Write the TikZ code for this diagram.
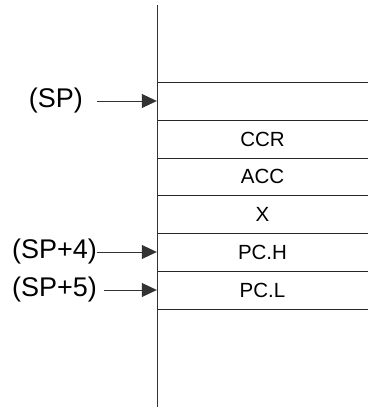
\documentclass[tikz,border=0pt]{standalone}
\usepackage{fontspec}
\setmainfont{Liberation Sans}
\usetikzlibrary{arrows.meta}
\tikzset{
  cell/.style={minimum width=211pt, minimum height=37pt, inner sep=0pt,
    font=\fontsize{20.5}{23}\selectfont},
  lbl/.style={inner sep=0pt, anchor=east, font=\fontsize{27}{30}\selectfont},
  ptr/.style={-{Triangle[length=15pt,width=14pt]}, line width=0.8pt, draw=black!80},
  rule/.style={line width=0.9pt, draw=black!85}
}
\begin{document}
\begin{tikzpicture}[x=1pt,y=-1pt]
\useasboundingbox (0,0) rectangle (368,407);

\draw[line width=1.2pt, draw=black!80] (157.5,5) -- (157.5,407);
\foreach \yy in {82,120,158,195,233,271,309}
  \draw[rule] (157.5,\yy) -- (368,\yy);

\node[cell] (sp) at (262.5,101) {};
\node[cell] (ccr) at (262.5,139) {CCR};
\node[cell] (acc) at (262.5,176.5) {ACC};
\node[cell] (xr) at (262.5,214) {X};
\node[cell] (pch) at (262.5,252) {PC.H};
\node[cell] (pcl) at (262.5,290) {PC.L};

\node[lbl] (lsp) at (83,101) {(SP)};
\node[lbl] (lsp4) at (97,252) {(SP+4)};
\node[lbl] (lsp5) at (97,290) {(SP+5)};

\draw[ptr] ([xshift=14pt]lsp.east) -- (sp.west);
\draw[ptr] (lsp4.east) -- (pch.west);
\draw[ptr] ([xshift=7pt]lsp5.east) -- (pcl.west);
\end{tikzpicture}
\end{document}
